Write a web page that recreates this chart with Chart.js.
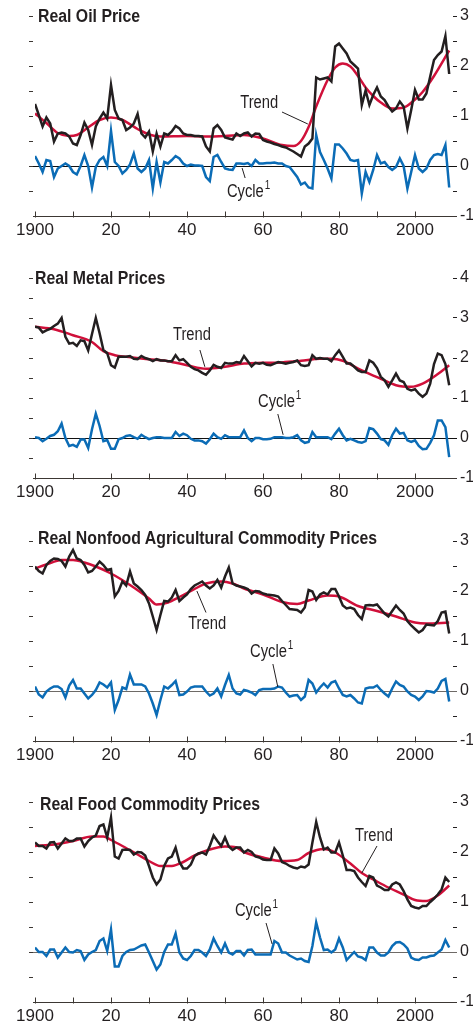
<!DOCTYPE html>
<html>
<head>
<meta charset="utf-8">
<script src="https://cdn.jsdelivr.net/npm/chart.js@4.4.1/dist/chart.umd.min.js"></script>
<style>
  body { margin: 0; background: #fff; width: 473px; height: 1026px; overflow: hidden; position: relative;
         font-family: "Liberation Sans", Arial, sans-serif; }
  .panel { position: absolute; left: 0; width: 473px; }
  .panel canvas { position: absolute; left: 0; top: 0; }
  .title { position: absolute; font-weight: bold; font-size: 18px; line-height: 20px; color: #231f20;
           white-space: nowrap; transform: scaleX(0.88); transform-origin: 0 50%; }
</style>
</head>
<body>
<div id="charts"></div>
<script>
// years 1900..2009
const years = [];
for (let yr = 1900; yr <= 2009; yr++) years.push(yr);

// Real oil price
const oilActual = [
  1.24, 1.02, 0.79, 0.97, 0.85, 0.49, 0.65, 0.67, 0.65, 0.59,
  0.45, 0.42, 0.62, 0.87, 0.72, 0.42, 0.79, 0.95, 1.07, 0.95,
  1.62, 1.12, 0.95, 0.92, 0.72, 0.77, 0.85, 1.04, 0.65, 0.57,
  0.69, 0.29, 0.65, 0.39, 0.65, 0.62, 0.69, 0.80, 0.75, 0.65,
  0.62, 0.62, 0.60, 0.60, 0.59, 0.39, 0.29, 0.75, 0.82, 0.72,
  0.57, 0.55, 0.53, 0.65, 0.60, 0.65, 0.67, 0.59, 0.65, 0.64,
  0.52, 0.49, 0.47, 0.44, 0.42, 0.39, 0.37, 0.33, 0.29, 0.24,
  0.19, 0.39, 0.45, 0.55, 1.77, 1.73, 1.75, 1.77, 1.69, 2.39,
  2.45, 2.35, 2.25, 2.09, 2.02, 1.95, 1.22, 1.51, 1.22, 1.42,
  1.57, 1.39, 1.32, 1.19, 1.09, 1.15, 1.29, 1.19, 0.75, 1.12,
  1.52, 1.33, 1.33, 1.45, 1.79, 2.12, 2.22, 2.29, 2.60, 1.84
];
const oilTrendYears = [1900, 1903, 1906, 1909, 1911, 1914, 1917, 1920, 1923, 1927, 1930, 1933, 1940, 1945, 1950,
  1955, 1960, 1965, 1968, 1970, 1972, 1974, 1977, 1979, 1981, 1983, 1985, 1987, 1989, 1991, 1994, 1997, 2000, 2002, 2005, 2009];
const oilTrend = [1.05, 0.86, 0.66, 0.60, 0.62, 0.77, 0.92, 0.97, 0.92, 0.74, 0.63, 0.59, 0.60, 0.59, 0.60,
  0.62, 0.55, 0.42, 0.40, 0.50, 0.78, 1.19, 1.72, 1.97, 2.05, 1.99, 1.80, 1.57, 1.40, 1.27, 1.15, 1.17, 1.33, 1.48, 1.80, 2.31];
const oilCycle = [
  0.20, 0.05, -0.12, 0.12, 0.10, -0.22, -0.05, 0.00, 0.05, 0.00,
  -0.12, -0.17, 0.00, 0.22, 0.00, -0.43, -0.02, 0.12, 0.18, 0.00,
  0.70, 0.08, 0.00, -0.15, -0.08, 0.03, 0.25, -0.05, -0.12, -0.05,
  0.12, -0.45, 0.08, -0.33, 0.08, 0.05, 0.12, 0.20, 0.15, 0.05,
  0.00, 0.03, 0.01, 0.01, 0.00, -0.22, -0.30, 0.18, 0.22, 0.08,
  -0.05, -0.07, -0.08, 0.05, 0.05, 0.04, 0.06, 0.00, 0.12, 0.05,
  0.05, 0.06, 0.06, 0.07, 0.05, 0.05, 0.00, -0.02, -0.12, -0.22,
  -0.37, -0.33, -0.43, -0.45, 0.62, 0.28, 0.12, -0.05, -0.25, 0.43,
  0.43, 0.35, 0.25, 0.12, 0.10, 0.12, -0.55, -0.12, -0.32, -0.08,
  0.22, 0.05, 0.08, -0.02, -0.08, -0.02, 0.15, 0.00, -0.45, -0.12,
  0.22, -0.05, -0.12, -0.05, 0.12, 0.22, 0.24, 0.22, 0.42, -0.43
];

// Real metal prices
const metalActual = [
  2.78, 2.76, 2.64, 2.69, 2.73, 2.80, 2.86, 3.00, 2.53, 2.36,
  2.38, 2.30, 2.44, 2.42, 2.19, 2.60, 3.00, 2.62, 2.20, 2.12,
  1.82, 1.76, 2.03, 2.03, 2.03, 2.05, 1.98, 1.97, 2.05, 2.00,
  1.97, 1.92, 1.97, 1.94, 1.94, 1.92, 1.92, 2.07, 1.94, 1.97,
  1.88, 1.78, 1.72, 1.69, 1.63, 1.58, 1.69, 1.83, 1.78, 1.75,
  1.88, 1.86, 1.86, 1.90, 1.88, 2.05, 1.92, 1.79, 1.88, 1.86,
  1.88, 1.83, 1.82, 1.86, 1.90, 1.88, 1.86, 1.88, 1.90, 1.94,
  1.82, 1.80, 1.82, 2.07, 1.98, 2.00, 1.98, 1.98, 1.92, 2.07,
  2.19, 2.03, 1.86, 1.86, 1.78, 1.69, 1.65, 1.65, 1.94, 1.88,
  1.75, 1.53, 1.44, 1.28, 1.44, 1.61, 1.44, 1.40, 1.23, 1.19,
  1.22, 1.11, 1.03, 1.11, 1.36, 1.85, 2.11, 2.07, 1.85, 1.32
];
const metalTrendYears = [1900, 1905, 1910, 1915, 1918, 1921, 1924, 1930, 1935, 1940, 1945, 1950, 1955, 1960, 1965,
  1970, 1975, 1978, 1981, 1986, 1991, 1995, 1999, 2002, 2006, 2009];
const metalTrend = [2.78, 2.72, 2.57, 2.40, 2.17, 2.07, 2.03, 1.97, 1.92, 1.82, 1.73, 1.78, 1.86, 1.88, 1.89,
  1.93, 1.98, 1.98, 1.93, 1.69, 1.48, 1.32, 1.28, 1.36, 1.60, 1.82];
const metalCycle = [
  0.02, 0.00, -0.08, -0.02, 0.05, 0.08, 0.17, 0.36, 0.00, -0.20,
  -0.17, -0.22, -0.04, -0.04, -0.25, 0.22, 0.61, 0.30, -0.08, -0.05,
  -0.27, -0.27, -0.03, 0.00, 0.05, 0.07, 0.02, -0.02, 0.08, 0.02,
  -0.03, 0.00, 0.02, 0.02, 0.00, 0.00, 0.00, 0.15, 0.05, 0.11,
  0.07, -0.02, -0.06, -0.06, -0.08, -0.14, -0.03, 0.11, 0.02, -0.02,
  0.07, 0.02, 0.02, 0.02, 0.02, 0.19, 0.00, -0.08, 0.00, 0.00,
  -0.03, -0.03, -0.02, 0.02, 0.02, 0.02, 0.00, 0.00, 0.02, 0.07,
  -0.06, -0.12, -0.10, 0.15, 0.02, 0.02, 0.02, 0.02, -0.03, 0.11,
  0.23, 0.07, -0.06, -0.02, -0.06, -0.10, -0.12, -0.08, 0.25, 0.22,
  0.11, -0.03, -0.06, -0.17, 0.07, 0.23, 0.11, 0.13, -0.06, -0.10,
  -0.06, -0.20, -0.28, -0.27, -0.12, 0.07, 0.44, 0.44, 0.27, -0.48
];

// Real nonfood agricultural commodity prices
const agriActual = [
  2.49, 2.40, 2.35, 2.52, 2.60, 2.65, 2.64, 2.60, 2.49, 2.69,
  2.82, 2.65, 2.62, 2.52, 2.37, 2.40, 2.49, 2.59, 2.52, 2.42,
  2.44, 1.89, 2.00, 2.19, 2.11, 2.39, 2.15, 2.09, 2.02, 1.92,
  1.75, 1.49, 1.22, 1.52, 1.80, 1.79, 1.87, 2.02, 1.80, 1.87,
  1.93, 2.04, 2.11, 2.15, 2.19, 2.11, 2.05, 2.11, 2.22, 2.07,
  2.29, 2.47, 2.15, 2.11, 2.09, 2.07, 2.04, 1.95, 2.00, 1.99,
  1.95, 1.93, 1.92, 1.91, 1.89, 1.80, 1.72, 1.64, 1.63, 1.62,
  1.57, 1.67, 2.02, 1.99, 1.82, 1.93, 1.97, 1.93, 2.04, 2.04,
  1.89, 1.71, 1.65, 1.67, 1.64, 1.52, 1.44, 1.71, 1.72, 1.71,
  1.73, 1.64, 1.55, 1.49, 1.60, 1.71, 1.62, 1.55, 1.40, 1.31,
  1.24, 1.17, 1.22, 1.33, 1.32, 1.31, 1.40, 1.57, 1.59, 1.15
];
const agriTrendYears = [1900, 1903, 1907, 1910, 1913, 1916, 1920, 1925, 1930, 1932, 1935, 1938, 1942, 1945, 1949,
  1952, 1955, 1960, 1965, 1969, 1972, 1977, 1980, 1985, 1990, 1995, 2000, 2003, 2009];
const agriTrend = [2.45, 2.53, 2.62, 2.62, 2.57, 2.49, 2.35, 2.12, 1.85, 1.73, 1.77, 1.88, 2.04, 2.15, 2.19,
  2.15, 2.05, 1.93, 1.78, 1.74, 1.81, 1.91, 1.89, 1.70, 1.60, 1.49, 1.37, 1.35, 1.37];
const agriCycle = [
  0.09, -0.07, -0.13, -0.01, 0.05, 0.09, 0.09, 0.04, -0.13, 0.11,
  0.22, 0.05, 0.05, -0.05, -0.15, -0.08, 0.02, 0.17, 0.13, 0.07,
  0.17, -0.38, -0.18, 0.07, 0.04, 0.33, 0.13, 0.13, 0.13, 0.09,
  -0.05, -0.25, -0.48, -0.18, 0.09, 0.05, 0.12, 0.20, -0.08, -0.07,
  -0.01, 0.07, 0.09, 0.09, 0.09, -0.01, -0.09, -0.05, 0.05, -0.11,
  0.12, 0.32, 0.05, -0.05, -0.07, 0.02, 0.00, -0.03, -0.08, 0.02,
  0.04, 0.04, 0.04, 0.05, 0.09, 0.07, -0.03, -0.11, -0.09, -0.08,
  -0.18, -0.11, 0.22, 0.15, -0.03, 0.07, 0.15, 0.07, 0.17, 0.20,
  0.05, -0.08, -0.11, -0.08, -0.15, -0.23, -0.25, 0.05, 0.07, 0.07,
  0.11, 0.02, -0.05, -0.11, 0.05, 0.19, 0.12, 0.09, -0.01, -0.08,
  -0.11, -0.18, -0.11, 0.00, -0.01, -0.03, 0.05, 0.20, 0.24, -0.21
];

// Real food commodity prices
const foodActual = [
  2.19, 2.12, 2.12, 2.07, 2.19, 2.20, 2.07, 2.17, 2.27, 2.22,
  2.22, 2.27, 2.27, 2.11, 2.22, 2.29, 2.33, 2.52, 2.55, 2.29,
  2.69, 1.91, 1.87, 2.04, 2.05, 2.04, 1.95, 2.00, 1.99, 1.93,
  1.72, 1.49, 1.35, 1.45, 1.72, 1.87, 1.91, 2.09, 1.80, 1.67,
  1.67, 1.75, 1.92, 1.97, 1.99, 1.95, 2.12, 2.33, 2.22, 2.12,
  2.29, 2.11, 2.04, 2.09, 2.09, 1.99, 2.04, 2.00, 1.91, 1.89,
  1.85, 1.84, 1.84, 2.07, 1.97, 1.80, 1.77, 1.72, 1.69, 1.67,
  1.71, 1.69, 1.75, 2.19, 2.60, 2.29, 2.05, 2.09, 1.99, 1.99,
  2.19, 1.93, 1.64, 1.64, 1.62, 1.49, 1.40, 1.32, 1.52, 1.49,
  1.33, 1.29, 1.24, 1.24, 1.35, 1.39, 1.35, 1.22, 1.05, 0.92,
  0.89, 0.87, 0.92, 0.92, 1.00, 1.07, 1.15, 1.25, 1.49, 1.40
];
const foodTrendYears = [1900, 1905, 1910, 1915, 1918, 1920, 1923, 1927, 1930, 1933, 1936, 1939, 1942, 1946, 1950,
  1953, 1955, 1960, 1965, 1969, 1972, 1976, 1979, 1983, 1986, 1990, 1993, 1997, 2000, 2003, 2006, 2009];
const foodTrend = [2.12, 2.15, 2.22, 2.31, 2.31, 2.24, 2.12, 1.95, 1.82, 1.72, 1.72, 1.80, 1.93, 2.05, 2.11,
  2.09, 2.00, 1.89, 1.82, 1.84, 1.98, 2.06, 1.99, 1.77, 1.58, 1.41, 1.29, 1.15, 1.04, 1.02, 1.13, 1.33];
const foodCycle = [
  0.09, 0.00, 0.00, -0.08, 0.05, 0.05, -0.11, -0.01, 0.09, 0.00,
  -0.01, 0.04, 0.02, -0.16, -0.05, 0.00, 0.04, 0.22, 0.27, 0.02,
  0.45, -0.29, -0.29, -0.08, 0.00, 0.04, 0.05, 0.09, 0.13, 0.15,
  -0.01, -0.18, -0.35, -0.25, 0.00, 0.15, 0.15, 0.37, -0.01, -0.13,
  -0.16, -0.08, 0.04, 0.04, -0.01, -0.08, 0.05, 0.27, 0.12, -0.01,
  0.17, -0.01, -0.05, 0.02, 0.02, -0.07, 0.04, 0.05, -0.05, -0.05,
  -0.05, -0.05, -0.05, 0.22, 0.17, -0.01, -0.01, -0.07, -0.11, -0.15,
  -0.13, -0.18, -0.20, 0.12, 0.59, 0.29, 0.04, 0.05, -0.01, 0.05,
  0.27, 0.09, -0.16, -0.08, 0.00, -0.09, -0.11, -0.16, 0.09, 0.09,
  -0.01, -0.07, -0.07, -0.01, 0.12, 0.19, 0.20, 0.15, 0.07, -0.11,
  -0.15, -0.16, -0.11, -0.11, -0.08, -0.07, -0.01, 0.05, 0.24, 0.09
];

const INK = '#231f20';
const AXIS = '#3c3733';
const RED = '#d0103a';
const BLUE = '#0b6cb6';
const FONT = '"Liberation Sans", Arial, sans-serif';

// page layout of the four panels
const panels = [
  { title: 'Real Oil Price', top: 0, padTop: 16, min: -1, max: 3, titleX: 38, titleY: 16, zero: '#111',
    actual: oilActual, trendYears: oilTrendYears, trend: oilTrend, cycle: oilCycle,
    notes: [
      { text: 'Trend', x: 1954, y: 1.26, line: [1965, 1.08, 1971.8, 0.84] },
      { text: 'Cycle', sup: '1', x: 1950.5, y: -0.52, line: [1954.5, -0.04, 1955.3, -0.24] }
    ] },
  { title: 'Real Metal Prices', top: 258, padTop: 20, min: -1, max: 4, titleX: 35, titleY: 278, zero: '#111',
    actual: metalActual, trendYears: metalTrendYears, trend: metalTrend, cycle: metalCycle,
    notes: [
      { text: 'Trend', x: 1936.3, y: 2.58, line: [1943.4, 2.2, 1944.7, 1.78] },
      { text: 'Cycle', sup: '1', x: 1958.7, y: 0.9, line: [1963.9, 0.6, 1965.3, 0.08] }
    ] },
  { title: 'Real Nonfood Agricultural Commodity Prices', top: 520, padTop: 21, min: -1, max: 3, titleX: 38, titleY: 538, zero: '#6e6a66',
    actual: agriActual, trendYears: agriTrendYears, trend: agriTrend, cycle: agriCycle,
    notes: [
      { text: 'Trend', x: 1940.3, y: 1.34, line: [1942.6, 2.0, 1945, 1.57] },
      { text: 'Cycle', sup: '1', x: 1956.6, y: 0.78, line: [1962.6, 0.54, 1963.9, 0.08] }
    ] },
  { title: 'Real Food Commodity Prices', top: 780, padTop: 22, min: -1, max: 3, titleX: 40, titleY: 804, zero: '#6e6a66',
    actual: foodActual, trendYears: foodTrendYears, trend: foodTrend, cycle: foodCycle,
    notes: [
      { text: 'Trend', x: 1984.2, y: 2.32, line: [1990, 2.12, 1986, 1.58] },
      { text: 'Cycle', sup: '1', x: 1952.6, y: 0.82, line: [1960.8, 0.58, 1962.4, 0.16] }
    ] }
];

const PLOT_H = 200;
const AXIS_H = 26;

// zero line, inward year ticks, left ticks and labels
const decor = {
  id: 'decor',
  beforeDatasetsDraw(chart, args, opts) {
    const { ctx, chartArea: a, scales: { y } } = chart;
    const py = Math.round(y.getPixelForValue(0)) + 0.5;
    ctx.save();
    ctx.strokeStyle = opts.zero || INK;
    ctx.lineWidth = 1;
    ctx.beginPath();
    ctx.moveTo(a.left - 6, py);
    ctx.lineTo(a.right + 4, py);
    ctx.stroke();
    ctx.restore();
  },
  afterDatasetsDraw(chart, args, opts) {
    const { ctx, chartArea: a, scales: { x, y } } = chart;
    ctx.save();
    ctx.strokeStyle = AXIS;
    ctx.lineWidth = 1;
    ctx.beginPath();
    const by = Math.round(a.bottom) + 0.5;
    ctx.moveTo(a.left - 2, by);
    ctx.lineTo(a.right + 4, by);
    for (let yr = 1900; yr <= 2000; yr += 10) {
      const px = Math.round(x.getPixelForValue(yr)) + 0.5;
      ctx.moveTo(px, by + 1);
      ctx.lineTo(px, by - 5);
    }
    for (let v = y.min + 0.5; v <= y.max + 0.01; v += 0.5) {
      const ty = Math.round(y.getPixelForValue(v)) + 0.5;
      ctx.moveTo(a.left - 6, ty);
      ctx.lineTo(a.left - 2, ty);
    }
    ctx.stroke();

    ctx.strokeStyle = INK;
    ctx.fillStyle = INK;
    ctx.textBaseline = 'middle';
    (opts.notes || []).forEach(n => {
      const [x1, y1, x2, y2] = n.line;
      ctx.beginPath();
      ctx.moveTo(x.getPixelForValue(x1), y.getPixelForValue(y1));
      ctx.lineTo(x.getPixelForValue(x2), y.getPixelForValue(y2));
      ctx.stroke();
      const tx = x.getPixelForValue(n.x);
      const ty = y.getPixelForValue(n.y);
      // condensed lettering
      ctx.save();
      ctx.translate(tx, ty);
      ctx.scale(0.82, 1);
      ctx.font = '18px ' + FONT;
      ctx.fillText(n.text, 0, 0);
      if (n.sup) {
        const w = ctx.measureText(n.text).width;
        ctx.font = '12px ' + FONT;
        ctx.fillText(n.sup, w + 1, -6);
      }
      ctx.restore();
    });
    ctx.restore();
  }
};

const host = document.getElementById('charts');

panels.forEach(p => {
  const h = p.padTop + PLOT_H + AXIS_H;
  const div = document.createElement('div');
  div.className = 'panel';
  div.style.top = p.top + 'px';
  div.style.height = h + 'px';
  const canvas = document.createElement('canvas');
  canvas.width = 473;
  canvas.height = h;
  div.appendChild(canvas);
  const t = document.createElement('div');
  t.className = 'title';
  t.textContent = p.title;
  t.style.left = p.titleX + 'px';
  t.style.top = (p.titleY - p.top - 10) + 'px';
  div.appendChild(t);
  host.appendChild(div);

  new Chart(canvas, {
    type: 'line',
    data: {
      datasets: [{
        data: years.map((yr, i) => ({ x: yr, y: p.actual[i] })),
        borderColor: INK,
        borderWidth: 2.5,
        pointRadius: 0,
        tension: 0
      }, {
        data: p.trendYears.map((yr, i) => ({ x: yr, y: p.trend[i] })),
        borderColor: RED,
        borderWidth: 2.5,
        pointRadius: 0,
        cubicInterpolationMode: 'monotone'
      }, {
        data: years.map((yr, i) => ({ x: yr, y: p.cycle[i] })),
        borderColor: BLUE,
        borderWidth: 2.5,
        pointRadius: 0,
        tension: 0
      }]
    },
    options: {
      responsive: false,
      animation: false,
      events: [],
      layout: { padding: { left: 35, top: p.padTop, right: 0, bottom: 0 } },
      plugins: {
        legend: { display: false },
        tooltip: { enabled: false },
        decor: { notes: p.notes, zero: p.zero }
      },
      scales: {
        x: {
          type: 'linear',
          min: 1900,
          max: 2010,
          grid: { display: false, drawTicks: false },
          border: { display: false },
          afterFit: s => { s.height = AXIS_H; },
          ticks: {
            stepSize: 10,
            autoSkip: false,
            maxRotation: 0,
            padding: 4,
            color: INK,
            font: { family: FONT, size: 17 },
            callback: v => (v % 20 === 0 && v <= 2000) ? (v === 1900 || v === 2000 ? String(v) : String(v).slice(2)) : ''
          }
        },
        y: {
          position: 'right',
          min: p.min,
          max: p.max,
          grid: { drawOnChartArea: false, tickLength: 4, color: INK },
          border: { display: false },
          afterFit: s => { s.width = 20; },
          ticks: {
            stepSize: 0.5,
            padding: 3,
            color: INK,
            font: { family: FONT, size: 16 },
            callback: v => Number.isInteger(v) ? String(v) : ''
          }
        }
      }
    },
    plugins: [decor]
  });
});
</script>
</body>
</html>
